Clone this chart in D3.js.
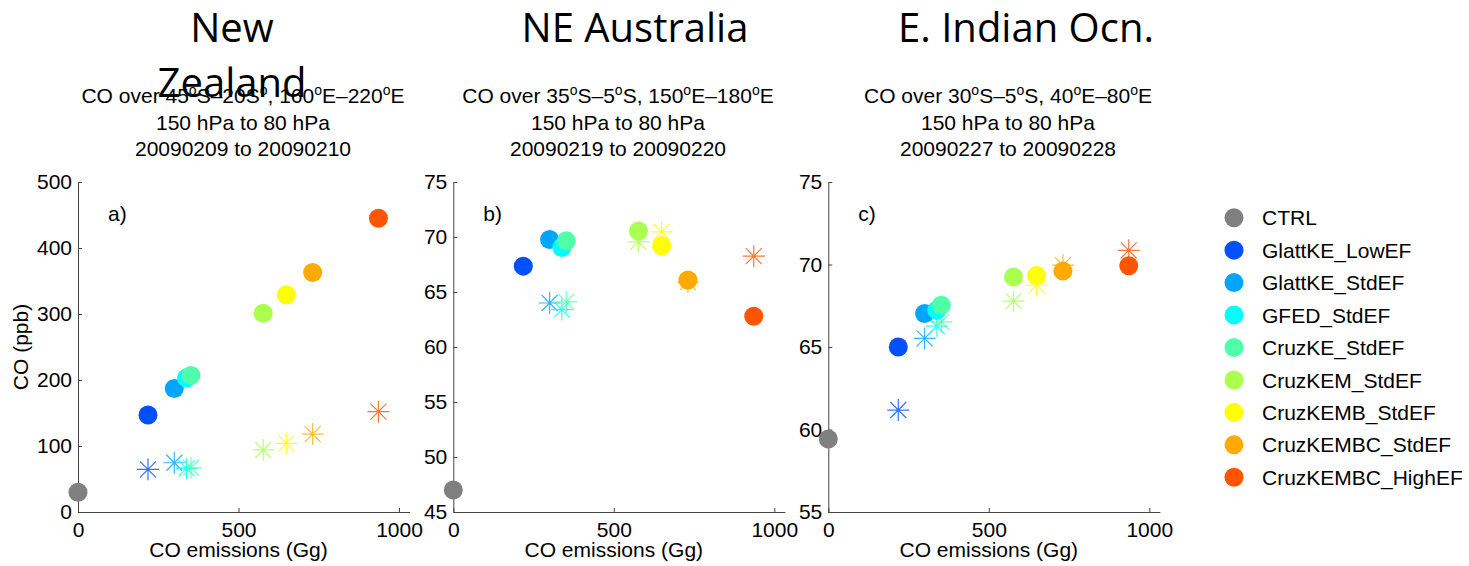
<!DOCTYPE html>
<html lang="en">
<head>
<meta charset="utf-8">
<title>CO vs CO emissions</title>
<script src="https://d3js.org/d3.v7.min.js"></script>
<style>
  body { margin: 0; background: #fff; }
  text { font-family: "Liberation Sans", Arial, Helvetica, sans-serif; fill: #000; }
  .big { font-family: "Open Sans", sans-serif; font-size: 40px; }
  .axis path, .axis line { stroke: #444; }
  .axis text { font-size: 21px; fill: #000; }
</style>
</head>
<body>
<script>
// runs, in legend order
var runs = ["CTRL", "GlattKE_LowEF", "GlattKE_StdEF", "GFED_StdEF", "CruzKE_StdEF",
            "CruzKEM_StdEF", "CruzKEMB_StdEF", "CruzKEMBC_StdEF", "CruzKEMBC_HighEF"];
var runColors = ["#808080", "#0050ff", "#00a5ff", "#00ffff", "#50ffaa",
                 "#aaff50", "#ffff00", "#ffaa00", "#ff5500"];

// CO emissions (Gg) per run
var emissions = [0, 218, 300, 338, 352, 577, 649, 731, 936];

// a) New Zealand  (filled circles and asterisks, ppb)
var nzCircles = [30, 147, 187, 203, 207, 301, 329, 363, 445];
var nzStars   = [null, 64.6, 74.6, 66, 67, 94, 104, 118, 152];
// b) NE Australia
var neCircles = [47.0, 67.35, 69.77, 69.05, 69.65, 70.55, 69.2, 66.08, 62.8];
var neStars   = [null, null, 64.0, 63.4, 64.1, 69.56, 70.47, 65.9, 68.26];
// c) E. Indian Ocean
var ioCircles = [59.42, 65.0, 67.03, 67.23, 67.53, 69.25, 69.33, 69.6, 69.92];
var ioStars   = [null, 61.18, 65.52, 66.26, 66.52, 67.78, 68.75, 69.96, 70.86];

var yDomains = [[0, 500], [45, 75], [55, 75]];
var yTicks = [[0, 100, 200, 300, 400, 500], [45, 50, 55, 60, 65, 70, 75], [55, 60, 65, 70, 75]];
var xTicks = [0, 500, 1000];

var regionTitles = [["New", "Zealand"], ["NE Australia"], ["E. Indian Ocn."]];
var subTitles = [
  ["CO over 45^oS–20S^o, 160^oE–220^oE", "150 hPa to 80 hPa", "20090209 to 20090210"],
  ["CO over 35^oS–5^oS, 150^oE–180^oE", "150 hPa to 80 hPa", "20090219 to 20090220"],
  ["CO over 30^oS–5^oS, 40^oE–80^oE", "150 hPa to 80 hPa", "20090227 to 20090228"]
];
var panelLetters = ["a)", "b)", "c)"];

var panels = [
  {circles: nzCircles, stars: nzStars, x0: 78,    titleX: 232,  subX: 243},
  {circles: neCircles, stars: neStars, x0: 453.3, titleX: 635,  subX: 618},
  {circles: ioCircles, stars: ioStars, x0: 828.3, titleX: 1026, subX: 1008}
];

var W = 1469, H = 566;
var yTop = 182, yBot = 512;
var xPer1000 = 321;

var svg = d3.select("body").append("svg").attr("width", W).attr("height", H);

panels.forEach(function(p, k) {
  var xScale = d3.scaleLinear().domain([0, 1033]).range([p.x0, p.x0 + xPer1000 * 1.033]);
  var yScale = d3.scaleLinear().domain(yDomains[k]).range([yBot, yTop]);

  // big region title
  var t = svg.append("text").attr("class", "big").attr("text-anchor", "middle");
  regionTitles[k].forEach(function(line, i) {
    t.append("tspan").attr("x", p.titleX).attr("y", 42 + i * 55).text(line);
  });

  // three-line subtitle, ^o -> superscript o
  subTitles[k].forEach(function(line, i) {
    var st = svg.append("text")
      .attr("x", p.subX).attr("y", 103 + i * 26.5)
      .attr("text-anchor", "middle").style("font-size", "21px");
    line.split("^o").forEach(function(part, j) {
      if (j > 0) {
        st.append("tspan").attr("dy", -8).style("font-size", "14px").text("o");
        st.append("tspan").attr("dy", 8).text(part);
      } else {
        st.append("tspan").text(part);
      }
    });
  });

  // axes
  svg.append("g").attr("class", "axis")
    .attr("transform", "translate(0," + yBot + ")")
    .call(d3.axisBottom(xScale).tickValues(xTicks).tickFormat(d3.format("d"))
      .tickSizeInner(-4).tickSizeOuter(0).tickPadding(10));
  svg.append("g").attr("class", "axis")
    .attr("transform", "translate(" + p.x0 + ",0)")
    .call(d3.axisLeft(yScale).tickValues(yTicks[k]).tickFormat(d3.format("d"))
      .tickSizeInner(-4).tickSizeOuter(0).tickPadding(6));

  svg.append("text")
    .attr("x", (xScale(0) + xScale(1000)) / 2).attr("y", 557)
    .attr("text-anchor", "middle").style("font-size", "21px")
    .text("CO emissions (Gg)");

  svg.append("text")
    .attr("x", p.x0 + 30).attr("y", 221)
    .style("font-size", "21px").text(panelLetters[k]);

  // asterisks (behind circles)
  var stars = svg.append("g");
  p.stars.forEach(function(v, i) {
    if (v === null) return;
    var cx = xScale(emissions[i]), cy = yScale(v);
    var a = 11, d = 8;
    var path = "M" + (cx - a) + "," + cy + "h" + (2 * a) +
               "M" + cx + "," + (cy - a) + "v" + (2 * a) +
               "M" + (cx - d) + "," + (cy - d) + "l" + (2 * d) + "," + (2 * d) +
               "M" + (cx - d) + "," + (cy + d) + "l" + (2 * d) + "," + (-2 * d);
    stars.append("path").attr("d", path)
      .attr("stroke", runColors[i]).attr("stroke-width", 1.2)
      .attr("stroke-opacity", 0.8).attr("fill", "none");
  });

  // filled circles
  svg.append("g").selectAll("circle")
    .data(p.circles)
    .join("circle")
    .attr("cx", function(d, i) { return xScale(emissions[i]); })
    .attr("cy", function(d) { return yScale(d); })
    .attr("r", 9.5)
    .attr("fill", function(d, i) { return runColors[i]; });
});

// y label (first panel only)
svg.append("text")
  .attr("transform", "translate(28," + ((yTop + yBot) / 2) + ") rotate(-90)")
  .attr("text-anchor", "middle").style("font-size", "21px")
  .text("CO (ppb)");

// legend
var legend = svg.append("g").selectAll("g")
  .data(runs)
  .join("g")
  .attr("transform", function(d, i) { return "translate(1234," + (217.7 + i * 32.45) + ")"; });
legend.append("circle").attr("r", 9.5).attr("fill", function(d, i) { return runColors[i]; });
legend.append("text").attr("x", 28).attr("dy", "0.36em").style("font-size", "21px").text(function(d) { return d; });
</script>
</body>
</html>
